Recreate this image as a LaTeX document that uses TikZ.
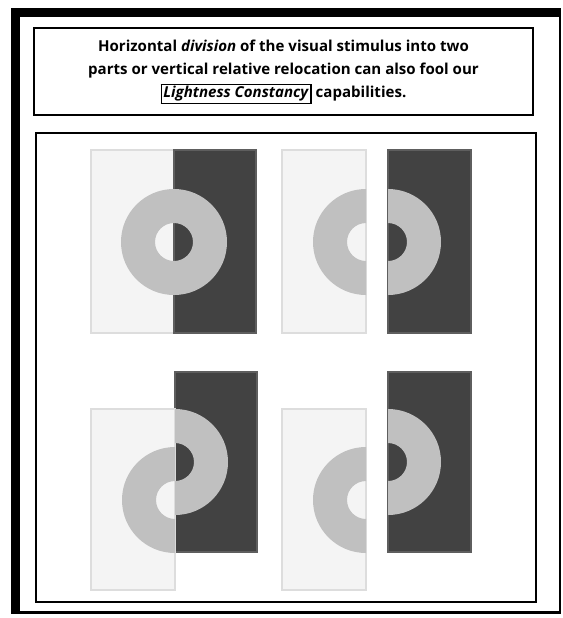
\documentclass[tikz,border=0pt]{standalone}
\usepackage{fontspec}
\setmainfont{Open Sans}
\definecolor{lightpaper}{HTML}{F4F4F4}
\definecolor{lightedge}{HTML}{DDDDDD}
\definecolor{darkpaper}{HTML}{424242}
\definecolor{darkedge}{HTML}{5E5E5E}
\definecolor{ringgray}{HTML}{C0C0C0}
\begin{document}
\begin{tikzpicture}[x=0.75pt,y=-0.75pt,
  lightside/.style={fill=lightpaper,draw=lightedge,line width=1.1pt},
  darkside/.style={fill=darkpaper,draw=darkedge,line width=0.8pt},
  ring/.style={fill=ringgray,even odd rule},
  frame/.style={draw=black,line width=1.5pt}]
\useasboundingbox (0,0) rectangle (562,618);
\fill [black] (11,8) rectangle (561,614);
\fill [white] (20,17) rectangle (559,611);
\draw [frame] (34,28) rectangle (533,115);
\node (caption) [align=center,font=\bfseries\fontsize{11.3}{17.25}\selectfont] at (283.5,72)
  {Horizontal \textit{division} of the visual stimulus into two\\
   parts or vertical relative relocation can also fool our\\
   \setlength{\fboxsep}{1pt}\setlength{\fboxrule}{1pt}\fbox{\textit{Lightness Constancy}} capabilities.};
\draw [frame] (36,133) rectangle (536,602);
\draw [lightside] (91,150) rectangle (174,333);
\draw [darkside] (174,150) rectangle (256,333);
\fill [ring] (174,242) circle (53) (174,242) circle (19);
\draw [lightside] (282,150) rectangle (366,333);
\draw [darkside] (388,150) rectangle (471,333);
\begin{scope}
\clip (300,180) rectangle (366,310);
\fill [ring] (366,242) circle (53) (366,242) circle (19);
\end{scope}
\begin{scope}
\clip (388,180) rectangle (450,310);
\fill [ring] (388,242) circle (53) (388,242) circle (19);
\end{scope}
\draw [darkside] (175,372) rectangle (257,552);
\draw [lightside] (91,409) rectangle (175,590);
\begin{scope}
\clip (110,440) rectangle (175,560);
\fill [ring] (175,500) circle (53) (175,500) circle (19);
\end{scope}
\begin{scope}
\clip (175,400) rectangle (240,520);
\fill [ring] (175,462) circle (53) (175,462) circle (19);
\end{scope}
\draw [darkside] (388,372) rectangle (471,552);
\draw [lightside] (282,409) rectangle (366,590);
\begin{scope}
\clip (300,440) rectangle (366,560);
\fill [ring] (366,500) circle (53) (366,500) circle (19);
\end{scope}
\begin{scope}
\clip (388,400) rectangle (450,520);
\fill [ring] (388,462) circle (53) (388,462) circle (19);
\end{scope}
\end{tikzpicture}
\end{document}
